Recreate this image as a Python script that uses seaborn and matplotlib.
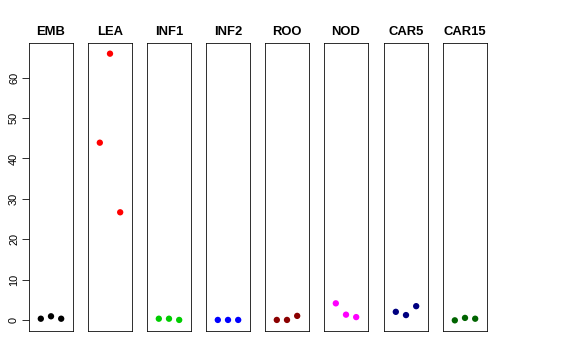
import numpy as np
import pandas as pd
import matplotlib
matplotlib.use('Agg')
import matplotlib.pyplot as plt
import seaborn as sns

sns.set_style('white')
plt.rcParams['font.family'] = ['Liberation Sans', 'DejaVu Sans']
plt.rcParams['text.color'] = 'black'
plt.rcParams['ytick.color'] = 'black'
plt.rcParams['ytick.labelcolor'] = 'black'

# one panel per tissue, three replicates each
tissues = ['EMB', 'LEA', 'INF1', 'INF2', 'ROO', 'NOD', 'CAR5', 'CAR15']
colors = ['black', 'red', '#00CD00', 'blue', '#8B0000', 'magenta', '#000080', '#006400']
replicate = [1, 2, 3]
emb = [0.4, 1.0, 0.4]
lea = [43.9, 65.9, 26.7]
inf1 = [0.4, 0.4, 0.1]
inf2 = [0.1, 0.1, 0.1]
roo = [0.1, 0.1, 1.1]
nod = [4.2, 1.4, 0.8]
car5 = [2.1, 1.3, 3.5]
car15 = [0.0, 0.6, 0.4]
values = [emb, lea, inf1, inf2, roo, nod, car5, car15]

fig = plt.figure(figsize=(8, 5), dpi=72)
W, H = 576, 360
lefts = [29, 88, 147, 206, 265, 324, 384, 443]
ymax = max(max(v) for v in values)
ymin = min(min(v) for v in values)
pad = 0.04 * (ymax - ymin)

for i, (name, col, vals) in enumerate(zip(tissues, colors, values)):
    ax = fig.add_axes([lefts[i] / W, 29 / H, 44 / W, 288 / H])
    df = pd.DataFrame({'x': replicate, 'y': vals})
    sns.scatterplot(data=df, x='x', y='y', color=col, s=40,
                    edgecolor='none', ax=ax)
    ax.set_xlim(-0.16, 4.16)
    ax.set_ylim(ymin - pad, ymax + pad)
    ax.set_xticks([])
    ax.set_xlabel('')
    ax.set_ylabel('')
    ax.set_title(name, fontsize=13, fontweight='bold', pad=8, color='black')
    for sp in ax.spines.values():
        sp.set_color('black')
        sp.set_linewidth(0.8)
    if i == 0:
        ax.set_yticks([0, 10, 20, 30, 40, 50, 60])
        ax.tick_params(axis='y', left=True, length=7, width=0.8,
                       labelsize=11, rotation=90, pad=3, colors='black')
        for lab in ax.get_yticklabels():
            lab.set_verticalalignment('center')
    else:
        ax.set_yticks([])

fig.savefig('out.png', dpi=72, facecolor='white')
